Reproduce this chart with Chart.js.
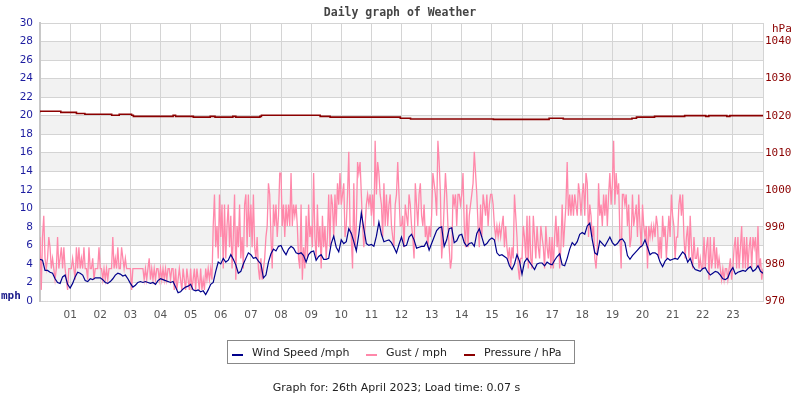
<!DOCTYPE html>
<html>
<head>
<meta charset="utf-8">
<title>Daily graph of Weather</title>
<script src="https://cdn.jsdelivr.net/npm/chart.js@4.4.1/dist/chart.umd.min.js"></script>
<style>
  html, body { margin: 0; padding: 0; background: #fff; }
  #wrap { position: relative; width: 800px; height: 400px; font-family: "DejaVu Sans", sans-serif; }
  #wrap canvas { position: absolute; left: 0; top: 0; }
  .abs { position: absolute; white-space: nowrap; }
  #title { left: 0; width: 800px; top: 5px; text-align: center; font: bold 11.5px "DejaVu Sans Mono", monospace; color: #444; }
  #mph { left: 1px; top: 289px; font: bold 11px "DejaVu Sans Mono", monospace; color: #1a1a8a; }
  #hpa { left: 772px; top: 22px; font: 11px "DejaVu Sans Mono", monospace; color: #8b0000; }
  #legend { left: 227px; top: 340px; width: 346px; height: 22px; border: 1px solid #888; font-size: 11px; color: #222; }
  #legend .mark { position: absolute; top: 13px; width: 11px; height: 2px; }
  #legend .txt { position: absolute; top: 5px; }
  #footer { left: 0; width: 793px; top: 381px; text-align: center; font-size: 11px; color: #222; }
</style>
</head>
<body>
<div id="wrap">
  <canvas id="weatherChart" width="800" height="400"></canvas>
  <div id="title" class="abs">Daily graph of Weather</div>
  <div id="mph" class="abs">mph</div>
  <div id="hpa" class="abs">hPa</div>
  <div id="legend" class="abs">
    <div class="mark" style="left:4px;background:#00008b"></div><div class="txt" style="left:24px">Wind Speed /mph</div>
    <div class="mark" style="left:138px;background:#ff88aa"></div><div class="txt" style="left:158px">Gust / mph</div>
    <div class="mark" style="left:236px;background:#8b0000"></div><div class="txt" style="left:256px">Pressure / hPa</div>
  </div>
  <div id="footer" class="abs">Graph for: 26th April 2023; Load time: 0.07 s</div>
</div>
<script>
// hour labels along the bottom
var hourTicks = ['01','02','03','04','05','06','07','08','09','10','11','12',
                 '13','14','15','16','17','18','19','20','21','22','23'];

// wind speed (mph), one reading every 5 minutes, one row per hour
var windSpeed = [
  4.5,4.4,3.3,3.3,3.1,3.0,2.4,2.0,1.9,2.6,2.8,1.8,
  1.4,1.9,2.6,3.1,3.0,2.8,2.2,2.1,2.4,2.3,2.5,2.5,
  2.5,2.3,2.0,1.9,2.1,2.4,2.8,3.0,2.9,2.7,2.8,2.4,
  1.9,1.5,1.7,2.0,2.1,2.0,2.1,2.0,1.9,2.0,1.8,2.2,
  2.4,2.3,2.2,2.1,2.0,2.1,1.5,0.9,1.0,1.3,1.5,1.6,
  1.8,1.2,1.1,1.2,1.0,1.1,0.7,1.2,1.8,2.0,3.2,4.2,
  4.0,4.6,4.2,4.4,5.0,4.5,3.9,3.0,3.2,4.0,4.6,5.2,
  5.0,4.6,4.7,4.3,4.0,2.5,2.8,4.2,5.1,5.6,5.4,5.9,
  6.0,5.4,5.0,5.6,5.9,5.7,5.2,5.1,5.2,4.9,4.2,5.0,
  5.3,5.4,4.4,4.8,5.0,4.5,4.5,4.6,6.2,7.0,5.8,5.3,
  6.6,6.2,6.4,7.8,7.3,6.4,5.4,7.2,9.5,7.8,6.2,6.0,
  6.1,5.9,7.0,8.5,7.2,6.4,6.5,6.6,6.3,5.8,5.2,6.1,
  6.9,5.9,6.0,6.9,7.2,6.6,5.7,5.8,5.9,5.9,6.4,5.5,
  6.2,6.9,7.6,7.9,8.0,5.9,6.6,7.8,7.9,6.3,6.5,7.1,
  7.2,6.3,5.9,6.2,6.3,5.9,7.3,7.8,6.9,6.0,6.2,6.6,
  6.8,6.6,5.2,4.9,5.0,4.8,4.6,3.8,3.4,4.0,5.0,4.3,
  2.9,4.2,4.6,4.2,3.8,3.4,4.0,4.1,4.1,3.8,4.2,4.0,
  3.9,4.4,4.8,5.1,3.9,3.8,4.6,5.6,6.3,6.0,6.4,7.2,
  7.4,7.2,8.1,8.4,6.6,5.2,5.0,6.5,6.2,5.9,6.4,6.9,
  6.3,6.0,6.2,6.6,6.7,6.3,4.9,4.5,4.9,5.2,5.5,5.8,
  6.0,6.6,5.8,5.0,5.2,5.2,5.0,4.2,3.7,4.3,4.6,4.4,
  4.5,4.6,4.5,4.9,5.3,5.0,4.2,4.6,3.8,3.4,3.3,3.2,
  3.5,3.6,3.1,2.8,3.0,3.2,3.1,2.8,2.4,2.3,2.5,3.2,
  3.6,2.9,3.1,3.2,3.3,3.2,3.5,3.7,3.2,3.4,3.8,3.2,
  3.0
];

// gust (mph), one reading every 2.5 minutes, one row per hour
var gust = [
  6.9,1.2,6.9,9.2,4.6,3.5,4.6,6.9,5.8,3.5,4.6,3.5,2.3,3.5,6.9,3.5,4.6,5.8,3.5,5.8,3.5,2.3,1.2,3.5,
  3.5,3.5,4.6,3.5,2.3,5.8,3.5,5.8,3.5,4.6,3.5,5.8,3.5,3.5,2.3,5.8,3.5,3.5,4.6,2.3,3.5,3.5,3.5,5.8,
  3.5,3.5,2.3,3.5,2.3,3.5,2.3,3.5,3.5,3.5,6.9,3.5,4.6,3.5,5.8,3.5,3.5,5.8,4.6,3.5,4.6,3.5,3.5,3.5,
  3.5,1.2,3.5,3.5,3.5,3.5,3.5,3.5,3.5,3.5,3.5,2.3,3.5,2.3,3.5,4.6,2.3,3.5,2.3,3.5,2.3,3.5,3.5,2.3,
  3.5,2.3,3.5,2.3,3.5,2.3,3.5,3.5,2.3,3.5,3.5,1.2,3.5,1.2,2.3,3.5,2.3,1.2,3.5,2.3,1.2,3.5,2.3,1.2,
  3.5,1.2,2.3,3.5,1.2,3.5,2.3,1.2,3.5,1.2,2.3,1.2,3.5,2.3,3.5,2.3,3.5,2.3,8.1,11.5,5.8,8.1,4.6,11.5,
  6.9,10.4,3.5,10.4,4.6,8.1,10.4,5.8,9.2,3.5,6.9,11.5,2.3,8.1,5.8,10.4,4.6,6.9,3.5,10.4,11.5,5.8,11.5,6.9,
  10.4,5.8,11.5,5.8,4.6,6.9,3.5,2.3,4.6,2.3,3.5,4.6,6.9,8.1,12.7,11.5,6.9,3.5,10.4,8.1,10.4,6.9,9.2,13.8,
  13.8,8.1,10.4,6.9,10.4,8.1,10.4,8.1,13.8,8.1,10.4,9.2,10.4,8.1,4.6,3.5,10.4,2.3,5.8,3.5,9.2,4.6,10.4,6.9,
  8.1,5.8,13.8,6.9,4.6,10.4,5.8,8.1,3.5,9.2,5.8,8.1,4.6,6.9,11.5,5.8,11.5,10.4,6.9,11.5,8.1,12.7,10.4,13.8,
  10.4,11.5,12.7,6.9,8.1,11.5,16.1,8.1,6.9,3.5,12.7,5.8,8.1,15.0,13.8,15.0,11.5,8.1,5.8,8.1,10.4,11.5,10.4,11.5,
  9.2,11.5,8.1,17.3,11.5,15.0,13.8,11.5,10.4,6.9,12.7,8.1,11.5,8.1,10.4,11.5,8.1,6.9,5.8,10.4,11.5,15.0,11.5,8.1,
  8.1,9.2,5.8,10.4,9.2,8.1,11.5,10.4,8.1,6.9,4.6,12.7,10.4,8.1,11.5,12.7,9.2,8.1,10.4,6.9,8.1,5.8,8.1,6.9,
  9.2,13.8,12.7,11.5,9.2,17.3,15.0,11.5,4.6,6.9,10.4,13.8,11.5,8.1,5.8,3.5,4.6,11.5,10.4,11.5,8.1,11.5,11.5,10.4,
  11.5,13.8,8.1,5.8,10.4,5.8,9.2,10.4,11.5,12.7,16.1,13.8,11.5,8.1,5.8,10.4,6.9,11.5,10.4,9.2,11.5,8.1,10.4,11.5,
  11.5,10.4,8.1,6.9,8.1,6.9,8.1,6.9,8.1,9.2,5.8,8.1,5.8,4.6,5.8,3.5,5.8,4.6,11.5,9.2,6.9,3.5,2.3,4.6,
  4.6,8.1,6.9,4.6,9.2,3.5,9.2,4.6,3.5,9.2,6.9,4.6,8.1,5.8,4.6,8.1,6.9,5.8,3.5,8.1,5.8,4.6,6.9,3.5,
  6.9,3.5,6.9,9.2,5.8,8.1,3.5,5.8,10.4,5.8,8.1,10.4,15.0,9.2,11.5,9.2,11.5,9.2,11.5,10.4,9.2,12.7,11.5,9.2,
  11.5,12.7,9.2,13.8,12.7,6.9,10.4,9.2,6.9,8.1,4.6,3.5,5.8,12.7,9.2,10.4,8.1,11.5,9.2,11.5,8.1,11.5,13.8,10.4,
  12.7,17.3,10.4,13.8,11.5,12.7,6.9,3.5,11.5,11.5,10.4,11.5,8.1,10.4,5.8,6.9,11.5,8.1,9.2,10.4,6.9,11.5,8.1,5.8,
  10.4,8.1,6.9,8.1,3.5,8.1,6.9,8.1,6.9,8.1,6.9,9.2,8.1,4.6,6.9,4.6,9.2,6.9,8.1,4.6,6.9,9.2,6.9,11.5,
  9.2,8.1,4.6,6.9,6.9,10.4,11.5,9.2,11.5,6.9,4.6,6.9,8.1,4.6,9.2,5.8,3.5,6.9,4.6,4.6,5.8,3.5,4.6,3.5,
  3.5,6.9,3.5,5.8,6.9,2.3,6.9,3.5,4.6,6.9,3.5,5.8,3.5,4.6,3.5,2.3,3.5,2.3,3.5,3.5,2.3,3.5,4.6,2.3,
  3.5,5.8,6.9,3.5,6.9,3.5,5.8,8.1,3.5,6.9,3.5,6.9,3.5,5.8,6.9,3.5,6.9,5.8,6.9,3.5,8.1,3.5,4.6,2.3,
  3.5
];

// pressure (hPa): hour at which each new reading starts
var pressureHours = [0, 0.69, 1.21, 1.49, 2.38, 2.63, 3.04, 3.1, 4.42, 4.5, 5.09, 5.65, 5.81,
                     6.4, 6.5, 7.3, 7.35, 9.3, 9.63, 11.96, 12.3, 15.05, 16.9, 17.37, 19.65,
                     19.8, 20.4, 21.4, 22.1, 22.2, 22.8, 22.9, 23.6, 24];
var pressure = [1020.9, 1021.2, 1020.9, 1020.6, 1020.4, 1020.1, 1020.4, 1020.1, 1019.8, 1020.1, 1019.8, 1019.6, 1019.8,
                1019.6, 1019.8, 1019.6, 1019.8, 1020.1, 1019.8, 1019.6, 1019.3, 1019.1, 1019.0, 1019.3, 1019.1,
                1019.3, 1019.6, 1019.8, 1020.0, 1019.8, 1020.0, 1019.8, 1020.0, 1020.0];

// grey bands behind every other 2 mph step
var bandPlugin = {
	id: 'bands',
	beforeDraw: function(chart) {
		var ctx = chart.ctx, a = chart.chartArea, y = chart.scales.y;
		ctx.save();
		ctx.fillStyle = '#f2f2f2';
		for (var v = 2; v < 30; v += 4) {
			var top = y.getPixelForValue(v + 2), bot = y.getPixelForValue(v);
			ctx.fillRect(a.left, top, a.right - a.left, bot - top);
		}
		ctx.restore();
	}
};

var gridColor = '#d4d4d4';

var weatherChart = new Chart(document.getElementById('weatherChart'), {
	type: 'line',
	data: {
		datasets: [{
			label: 'Wind Speed /mph',
			data: windSpeed.map(function(v, i) { return {x: i * 5 / 60, y: v}; }),
			borderColor: '#00008b',
			borderWidth: 1.2,
			pointRadius: 0,
			yAxisID: 'y'
		}, {
			label: 'Gust / mph',
			data: gust.map(function(v, i) { return {x: i * 2.5 / 60, y: v}; }),
			borderColor: '#ff88aa',
			borderWidth: 1.3,
			pointRadius: 0,
			yAxisID: 'y'
		}, {
			label: 'Pressure / hPa',
			data: pressureHours.map(function(h, i) { return {x: h, y: pressure[i]}; }),
			borderColor: '#8b0000',
			borderWidth: 1.6,
			pointRadius: 0,
			stepped: 'after',
			yAxisID: 'y1'
		}]
	},
	options: {
		responsive: false,
		animation: false,
		layout: { padding: { top: 23 } },
		plugins: {
			legend: { display: false },
			title: { display: false },
			tooltip: { enabled: false }
		},
		scales: {
			x: {
				type: 'linear',
				min: 0,
				max: 24,
				ticks: {
					stepSize: 1,
					autoSkip: false,
					maxRotation: 0,
					padding: 8,
					color: '#555',
					font: { family: 'DejaVu Sans', size: 10.5 },
					callback: function(v) { return hourTicks[v - 1] || ''; }
				},
				grid: { color: gridColor, drawTicks: false },
				border: { color: gridColor },
				afterFit: function(s) { s.height = 99; }
			},
			y: {
				position: 'left',
				min: 0,
				max: 30,
				ticks: {
					stepSize: 2,
					padding: 7,
					color: '#1c1ca0',
					font: { family: 'DejaVu Sans', size: 10.5 }
				},
				grid: { color: gridColor, drawTicks: false },
				border: { color: '#c8c8c8', width: 2 },
				afterFit: function(s) { s.width = 40; }
			},
			y1: {
				position: 'right',
				min: 970,
				max: 1045,
				ticks: {
					stepSize: 10,
					includeBounds: false,
					padding: 2,
					color: '#8b0000',
					font: { family: 'DejaVu Sans Mono', size: 11 },
					callback: function(v) { return String(v); }
				},
				grid: { drawOnChartArea: false, drawTicks: false },
				border: { display: false },
				afterFit: function(s) { s.width = 37; }
			}
		}
	},
	plugins: [bandPlugin]
});
</script>
</body>
</html>
